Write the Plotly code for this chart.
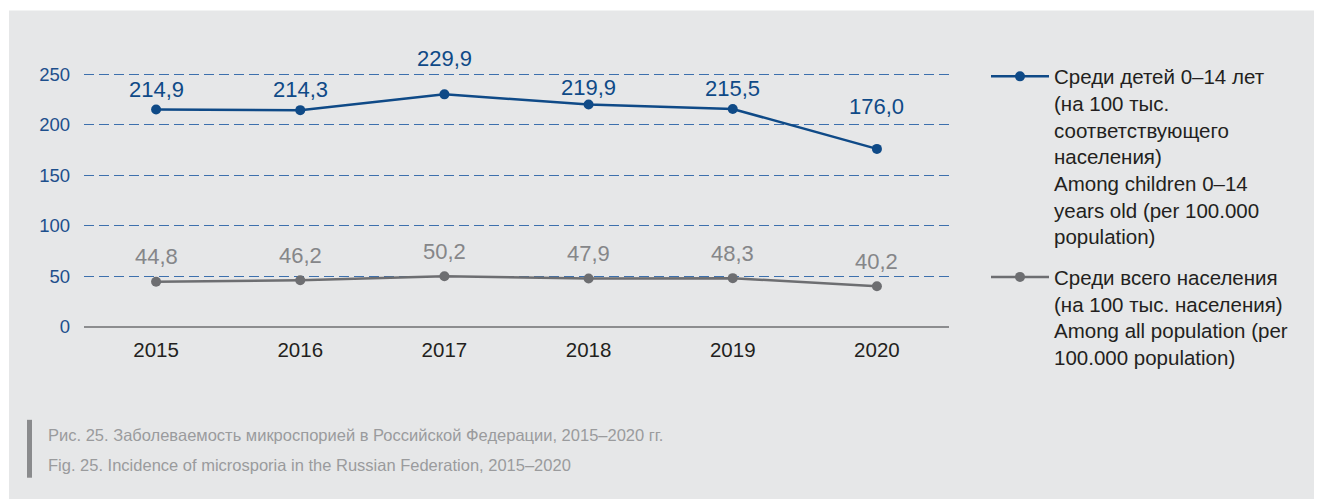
import plotly.graph_objects as go

years = ["2015", "2016", "2017", "2018", "2019", "2020"]
children = [214.9, 214.3, 229.9, 219.9, 215.5, 176.0]
total = [44.8, 46.2, 50.2, 47.9, 48.3, 40.2]
children_labels = ["214,9", "214,3", "229,9", "219,9", "215,5", "176,0"]
total_labels = ["44,8", "46,2", "50,2", "47,9", "48,3", "40,2"]
y_ticks = [0, 50, 100, 150, 200, 250]

name_children = ("Среди детей 0–14 лет<br>(на 100 тыс.<br>соответствующего<br>населения)<br>"
                 "Among children 0–14<br>years old (per 100.000<br>population)")
name_total = ("Среди всего населения<br>(на 100 тыс. населения)<br>"
              "Among all population (per<br>100.000 population)")
caption_ru = "Рис. 25. Заболеваемость микроспорией в Российской Федерации, 2015–2020 гг."
caption_en = "Fig. 25. Incidence of microsporia in the Russian Federation, 2015–2020"

# label offsets (px) above markers
children_shift = [20, 21, 36, 17, 20, 42]
total_shift = [25, 25, 25, 25, 25, 25]

W, H = 1322, 499
L, R, T, B = 76, 941, 62.5, 319
Y_TOP = 253
FONT = "Liberation Sans Narrow, Arial Narrow, Liberation Sans, sans-serif"
BLUE = "#0f4a87"
GRAY = "#6d6e71"
PANEL = "#e6e7e8"


def px(x):
    return (x - L) / (R - L)


def py(y):
    return (B - y) / (B - T)


fig = go.Figure()
fig.add_trace(go.Scatter(
    x=years, y=children, mode="lines+markers", name=name_children, legendgroup="a",
    line=dict(color=BLUE, width=2.5), marker=dict(color=BLUE, size=10),
    cliponaxis=False,
))
fig.add_trace(go.Scatter(
    x=years, y=total, mode="lines+markers", name=name_total, legendgroup="b",
    line=dict(color=GRAY, width=2.5), marker=dict(color=GRAY, size=10),
    cliponaxis=False,
))

annotations = []
for i, (v, t, s) in enumerate(zip(children, children_labels, children_shift)):
    annotations.append(dict(x=i, y=v, text=t, showarrow=False, yshift=s,
                            xanchor="center", yanchor="middle",
                            font=dict(family=FONT, size=22, color=BLUE)))
for i, (v, t, s) in enumerate(zip(total, total_labels, total_shift)):
    annotations.append(dict(x=i, y=v, text=t, showarrow=False, yshift=s,
                            xanchor="center", yanchor="middle",
                            font=dict(family=FONT, size=22, color="#858689")))

annotations.append(dict(xref="paper", yref="paper", x=px(38), y=py(427), text=caption_ru,
                        showarrow=False, xanchor="left", yanchor="middle",
                        font=dict(family=FONT, size=16.5, color="#9a9b9d")))
annotations.append(dict(xref="paper", yref="paper", x=px(38), y=py(457), text=caption_en,
                        showarrow=False, xanchor="left", yanchor="middle",
                        font=dict(family=FONT, size=16.5, color="#9a9b9d")))

shapes = [
    dict(type="rect", xref="paper", yref="paper", x0=px(1), x1=px(W), y0=py(H), y1=py(2),
         fillcolor=PANEL, line=dict(width=0), layer="below"),
    dict(type="rect", xref="paper", yref="paper", x0=px(19), x1=px(24), y0=py(470), y1=py(412),
         fillcolor="#8a8b8d", line=dict(width=0), layer="below"),
]

fig.update_layout(
    width=W, height=H,
    margin=dict(l=L, r=W - R, t=T, b=H - B, pad=0),
    paper_bgcolor="white", plot_bgcolor="rgba(0,0,0,0)",
    font=dict(family=FONT, color="#231f20"),
    showlegend=True,
    legend=dict(x=px(978), y=py(48), xanchor="left", yanchor="top", valign="top",
                bgcolor="rgba(0,0,0,0)", font=dict(family=FONT, size=20.5, color="#231f20"),
                tracegroupgap=11, itemwidth=58, maxheight=420),
    annotations=annotations, shapes=shapes,
)
fig.update_xaxes(type="category", range=[-0.5, 5.5], showgrid=False, zeroline=False,
                 showline=False, ticks="", ticklabelstandoff=8,
                 tickfont=dict(family=FONT, size=20.5, color="#231f20"))
fig.update_yaxes(range=[0, Y_TOP], tickvals=y_ticks, showgrid=True, gridcolor="#3d70ad",
                 griddash="10px,5px", gridwidth=1.3, zeroline=True, zerolinecolor="#8c8d8f",
                 zerolinewidth=2, showline=False, ticks="", ticklabelstandoff=13,
                 tickfont=dict(family=FONT, size=18.5, color="#1d4f8c"))

fig.write_html("out.html")
